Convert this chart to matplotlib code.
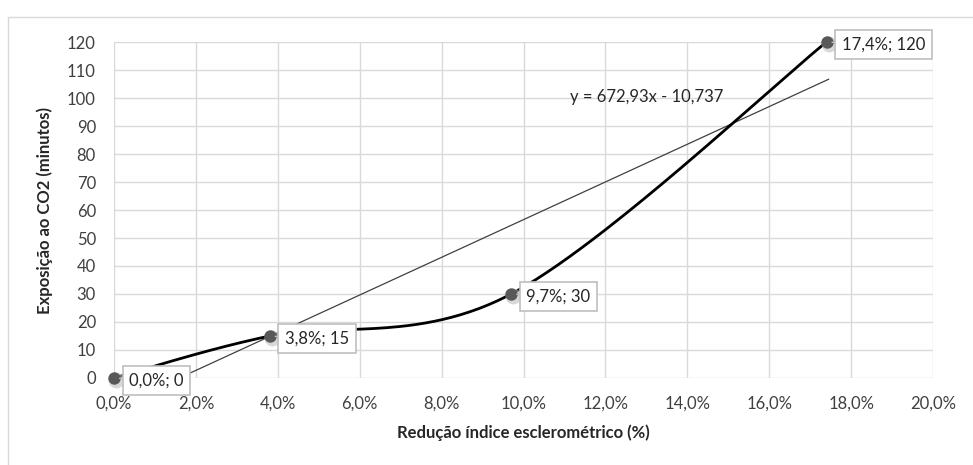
import matplotlib.pyplot as plt
import numpy as np
from matplotlib.patches import Rectangle

plt.rcParams['font.family'] = ['Lato', 'DejaVu Sans']

reducao = [0.0, 0.038, 0.097, 0.174]
exposicao = [0, 15, 30, 120]
rotulos = ['0,0%; 0', '3,8%; 15', '9,7%; 30', '17,4%; 120']
slope, intercept = 672.93, -10.737
x_ticks = [0.0, 0.02, 0.04, 0.06, 0.08, 0.10, 0.12, 0.14, 0.16, 0.18, 0.20]
y_ticks = list(range(0, 121, 10))


def excel_smooth(xs, ys, sx, sy, n=60):
    # Excel-style smoothed line: cubic bezier, control points at 1/6 of neighbour span
    p = np.column_stack([np.array(xs) * sx, np.array(ys) * sy])
    p = np.vstack([p[0], p, p[-1]])
    out = []
    t = np.linspace(0, 1, n)[:, None]
    for i in range(1, len(p) - 2):
        a, b = p[i], p[i + 1]
        c1 = a + (p[i + 1] - p[i - 1]) / 6
        c2 = b - (p[i + 2] - p[i]) / 6
        seg = (1 - t)**3 * a + 3 * (1 - t)**2 * t * c1 + 3 * (1 - t) * t**2 * c2 + t**3 * b
        out.append(seg)
    out = np.vstack(out)
    return out[:, 0] / sx, out[:, 1] / sy


fig = plt.figure(figsize=(9.73, 4.65), dpi=100)
fig.patches.append(Rectangle((8 / 973, -0.1), 1.0, 1 - 17 / 465 + 0.1, transform=fig.transFigure,
                             fill=False, edgecolor='#d9d9d9', linewidth=1))
ax = fig.add_axes([114 / 973, 1 - 378 / 465, 819 / 973, 336 / 465])

ax.set_xlim(0, 0.20)
ax.set_ylim(0, 120)
ax.set_xticks(x_ticks)
ax.set_xticklabels([f'{v*100:.1f}%'.replace('.', ',') for v in x_ticks])
ax.set_yticks(y_ticks)
ax.grid(True, color='#d9d9d9', linewidth=1)
ax.set_axisbelow(True)
for s in ax.spines.values():
    s.set_visible(False)
ax.tick_params(length=0, labelsize=12, colors='#404040')
ax.tick_params(axis='x', pad=13)
ax.tick_params(axis='y', pad=13)

# trendline
tx = np.array([-intercept / slope, 0.1745])
ax.plot(tx, slope * tx + intercept, color='#404040', linewidth=0.9, zorder=3)
ax.text(0.1113, 100.5, 'y = 672,93x - 10,737', fontsize=12, color='#262626', va='center')

# smoothed series
sx_, sy_ = excel_smooth(reducao, exposicao, 819 / 0.2, 336 / 120)
ax.plot(sx_, sy_, color='black', linewidth=2, zorder=4, clip_on=False)
ax.scatter(np.array(reducao) + 0.0005, np.array(exposicao) - 0.8, s=130, color='#bfbfbf',
           alpha=0.6, zorder=5, clip_on=False, linewidths=0)
ax.scatter(reducao, exposicao, s=80, color='#595959', zorder=6, clip_on=False, linewidths=0)

for xv, yv, lab in zip(reducao, exposicao, rotulos):
    ax.annotate(lab, (xv, yv), xytext=(11, -2), textcoords='offset points', fontsize=12,
                color='#262626', va='center', ha='left', zorder=7, annotation_clip=False,
                bbox=dict(boxstyle='square,pad=0.4', facecolor='white', edgecolor='#bfbfbf', linewidth=1.2),
                arrowprops=dict(arrowstyle='-', color='#bfbfbf', linewidth=1, shrinkA=0, shrinkB=4))

ax.set_xlabel('Redução índice esclerométrico (%)', fontsize=12, fontweight='bold', color='#262626', labelpad=9)
ax.set_ylabel('Exposição ao CO2 (minutos)', fontsize=12, fontweight='bold', color='#262626', labelpad=10)

fig.savefig('out.png', dpi=100)
